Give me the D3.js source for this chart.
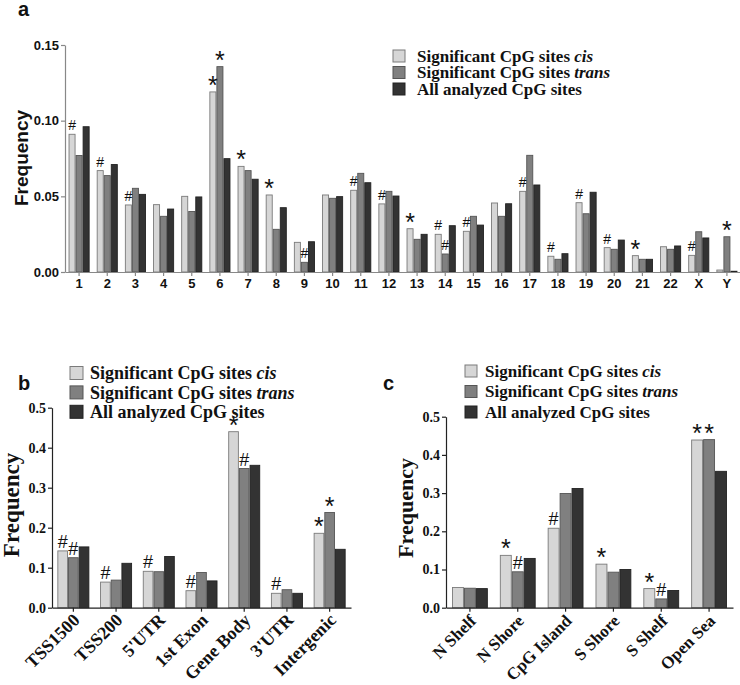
<!DOCTYPE html>
<html><head><meta charset="utf-8">
<script src="https://cdn.jsdelivr.net/npm/d3@7"></script>
<style>body{margin:0;background:#fff}</style>
</head><body><svg id="chart" width="740" height="685"></svg>
<script>
const seriesNames = ["cis", "trans", "all"];
const legendMain = ["Significant CpG sites ", "Significant CpG sites ", "All analyzed CpG sites"];
const legendItalic = ["cis", "trans", ""];
const fillColors = ["#d6d6d6", "#808080", "#333333"];
const strokeColors = ["#7a7a7a", "#555555", "#222222"];

const chromosomes = ["1","2","3","4","5","6","7","8","9","10","11","12","13","14","15","16","17","18","19","20","21","22","X","Y"];
const chrCis   = [0.091,0.067,0.0443,0.0445,0.050,0.119,0.0698,0.0509,0.0196,0.0509,0.054,0.045,0.0286,0.0249,0.0269,0.0456,0.0533,0.0104,0.0458,0.0161,0.0108,0.0167,0.011,0.0013];
const chrTrans = [0.077,0.0637,0.0553,0.0368,0.040,0.1357,0.067,0.0282,0.0064,0.0487,0.0652,0.0533,0.0216,0.0119,0.0368,0.0368,0.0771,0.0084,0.0385,0.015,0.0084,0.015,0.0266,0.0233];
const chrAll   = [0.096,0.071,0.0513,0.0416,0.0496,0.0749,0.0613,0.0425,0.020,0.0498,0.059,0.0502,0.0249,0.0306,0.031,0.0451,0.0575,0.0121,0.0527,0.0211,0.0084,0.0172,0.0225,0.0005];
const chrMarks = [["1","cis","#"],["2","cis","#"],["3","cis","#"],["6","cis","*"],["6","trans","*"],["7","cis","*"],["8","cis","*"],["9","trans","#"],["11","cis","#"],["12","cis","#"],["13","cis","*"],["14","cis","#"],["14","trans","#"],["15","cis","#"],["17","cis","#"],["18","cis","#"],["19","cis","#"],["20","cis","#"],["21","cis","*"],["X","cis","#"],["Y","trans","*"]];
const yTicksA = [0, 0.05, 0.10, 0.15];

const geneRegions = ["TSS1500","TSS200","5'UTR","1st Exon","Gene Body","3'UTR","Intergenic"];
const geneCis   = [0.142,0.064,0.091,0.0425,0.44,0.036,0.186];
const geneTrans = [0.125,0.069,0.090,0.088,0.348,0.045,0.238];
const geneAll   = [0.152,0.111,0.128,0.067,0.356,0.036,0.146];
const geneMarks = [["TSS1500","cis","#"],["TSS1500","trans","#"],["TSS200","cis","#"],["5'UTR","cis","#"],["1st Exon","cis","#"],["Gene Body","cis","*"],["Gene Body","trans","#"],["3'UTR","cis","#"],["Intergenic","cis","*"],["Intergenic","trans","*"]];

const islandRegions = ["N Shelf","N Shore","CpG Island","S Shore","S Shelf","Open Sea"];
const islandCis   = [0.053,0.137,0.208,0.114,0.050,0.439];
const islandTrans = [0.051,0.094,0.299,0.093,0.023,0.440];
const islandAll   = [0.050,0.129,0.312,0.100,0.045,0.357];
const islandMarks = [["N Shore","cis","*"],["N Shore","trans","#"],["CpG Island","cis","#"],["S Shore","cis","*"],["S Shelf","cis","*"],["S Shelf","trans","#"],["Open Sea","cis","*"],["Open Sea","trans","*"]];
const yTicksBC = [0, 0.1, 0.2, 0.3, 0.4, 0.5];

const svg = d3.select("#chart");
svg.append("rect").attr("width", 740).attr("height", 685).attr("fill", "#fff");

const SANS = "'Liberation Sans', Arial, sans-serif";
const SERIF = "'Liberation Serif', 'Times New Roman', serif";

function panel(cfg) {
  const g = svg.append("g");
  const x0 = d3.scaleBand().domain(cfg.cats).range(cfg.xr).paddingInner(0.25).paddingOuter(0.125);
  const x1 = d3.scaleBand().domain(seriesNames).range([0, x0.bandwidth()]);
  const y = d3.scaleLinear().domain([0, cfg.ymax]).range(cfg.yr);
  const rows = cfg.cats.map((c, i) => ({cat: c, vals: seriesNames.map((s, k) => ({s, k, v: cfg.series[k][i]}))}));

  const grp = g.selectAll("g.grp").data(rows).join("g").attr("transform", d => `translate(${x0(d.cat)},0)`);
  grp.selectAll("rect").data(d => d.vals).join("rect")
    .attr("x", d => x1(d.s) + 0.5)
    .attr("y", d => y(d.v))
    .attr("width", x1.bandwidth() - 1)
    .attr("height", d => y(0) - y(d.v))
    .attr("fill", d => fillColors[d.k])
    .attr("stroke", d => strokeColors[d.k])
    .attr("stroke-width", 0.9);

  const valOf = (cat, s) => cfg.series[seriesNames.indexOf(s)][cfg.cats.indexOf(cat)];
  g.selectAll("text.mark").data(cfg.marks).join("text")
    .attr("x", d => x0(d[0]) + x1(d[1]) + x1.bandwidth() / 2)
    .attr("y", d => y(valOf(d[0], d[1])) - (d[2] === "#" ? cfg.hashOff : cfg.starOff))
    .attr("text-anchor", "middle")
    .attr("font-family", SANS)
    .attr("font-size", d => d[2] === "#" ? cfg.hashSize : cfg.starSize)
    .attr("fill", "#111")
    .text(d => d[2]);

  const yAxis = g.append("g").attr("transform", `translate(${cfg.xr[0]},0)`)
    .call(d3.axisLeft(y).tickValues(cfg.ticks).tickFormat(d3.format(cfg.fmt)).tickSize(4).tickSizeOuter(0).tickPadding(2));
  yAxis.selectAll("path,line").attr("stroke", cfg.axisColor).attr("stroke-width", 1.2);
  yAxis.selectAll("text").attr("font-family", cfg.tickFont).attr("font-weight", "bold")
    .attr("font-size", cfg.yTickSize).attr("fill", "#111");

  const xAxis = g.append("g").attr("transform", `translate(0,${cfg.yr[0]})`)
    .call(d3.axisBottom(x0).tickSize(4).tickSizeOuter(0).tickPadding(3));
  xAxis.selectAll("path,line").attr("stroke", cfg.axisColor).attr("stroke-width", 1.2);
  const xt = xAxis.selectAll("text").attr("font-family", cfg.tickFont).attr("font-weight", "bold")
    .attr("font-size", cfg.xTickSize).attr("fill", "#111");
  if (cfg.rotate) {
    xt.attr("text-anchor", "end").attr("dy", "0.35em")
      .attr("transform", `translate(${cfg.rotShift[0]},${cfg.rotShift[1]}) rotate(-45)`).attr("y", 0).attr("x", 0);
  }

  g.append("text").attr("transform", `translate(${cfg.titleX},${cfg.titleY}) rotate(-90)`)
    .attr("text-anchor", "middle").attr("font-family", cfg.titleFont).attr("font-weight", "bold")
    .attr("font-size", cfg.titleSize).attr("fill", "#111").text("Frequency");

  const lg = g.append("g");
  seriesNames.forEach((s, k) => {
    const cy = cfg.leg.y + k * cfg.leg.dy;
    lg.append("rect").attr("x", cfg.leg.x).attr("y", cy - cfg.leg.sq / 2).attr("width", cfg.leg.sq).attr("height", cfg.leg.sq)
      .attr("fill", fillColors[k]).attr("stroke", strokeColors[k]).attr("stroke-width", 1);
    const t = lg.append("text").attr("x", cfg.leg.x + cfg.leg.sq + cfg.leg.gap).attr("y", cy).attr("dy", "0.35em")
      .attr("font-family", SERIF).attr("font-weight", "bold").attr("font-size", cfg.leg.size).attr("fill", "#111");
    t.append("tspan").text(legendMain[k]);
    if (legendItalic[k]) t.append("tspan").attr("font-style", "italic").text(legendItalic[k]);
  });

  g.append("text").attr("x", cfg.letter[0]).attr("y", cfg.letter[1]).attr("font-family", SANS)
    .attr("font-weight", "bold").attr("font-size", 20).attr("fill", "#111").text(cfg.letter[2]);
}

panel({
  cats: chromosomes, series: [chrCis, chrTrans, chrAll], marks: chrMarks,
  xr: [65, 741], yr: [272, 45], ymax: 0.15, ticks: yTicksA, fmt: ".2f",
  axisColor: "#888", tickFont: SANS, yTickSize: 13, xTickSize: 13, rotate: false,
  hashOff: 4, starOff: -2, hashSize: 14, starSize: 25,
  titleX: 28, titleY: 158, titleFont: SANS, titleSize: 19,
  leg: {x: 393, y: 56, dy: 16.5, sq: 12, gap: 12, size: 17},
  letter: [18, 16, "a"]
});

panel({
  cats: geneRegions, series: [geneCis, geneTrans, geneAll], marks: geneMarks,
  xr: [52, 351], yr: [607.7, 407.7], ymax: 0.5, ticks: yTicksBC, fmt: ".1f",
  axisColor: "#222", tickFont: SERIF, yTickSize: 14, xTickSize: 18, rotate: true, rotShift: [3, 9],
  hashOff: 3, starOff: -2, hashSize: 18, starSize: 25,
  titleX: 19, titleY: 505, titleFont: SERIF, titleSize: 23,
  leg: {x: 70, y: 373, dy: 19.4, sq: 13, gap: 7, size: 18},
  letter: [18, 390, "b"]
});

panel({
  cats: islandRegions, series: [islandCis, islandTrans, islandAll], marks: islandMarks,
  xr: [446, 733], yr: [607.7, 416.7], ymax: 0.5, ticks: yTicksBC, fmt: ".1f",
  axisColor: "#222", tickFont: SERIF, yTickSize: 14, xTickSize: 17, rotate: true, rotShift: [3, 10],
  hashOff: 3, starOff: -2, hashSize: 18, starSize: 25,
  titleX: 413, titleY: 508, titleFont: SERIF, titleSize: 22,
  leg: {x: 465, y: 371, dy: 20.5, sq: 12, gap: 8, size: 17},
  letter: [383, 390, "c"]
});
</script></body></html>
